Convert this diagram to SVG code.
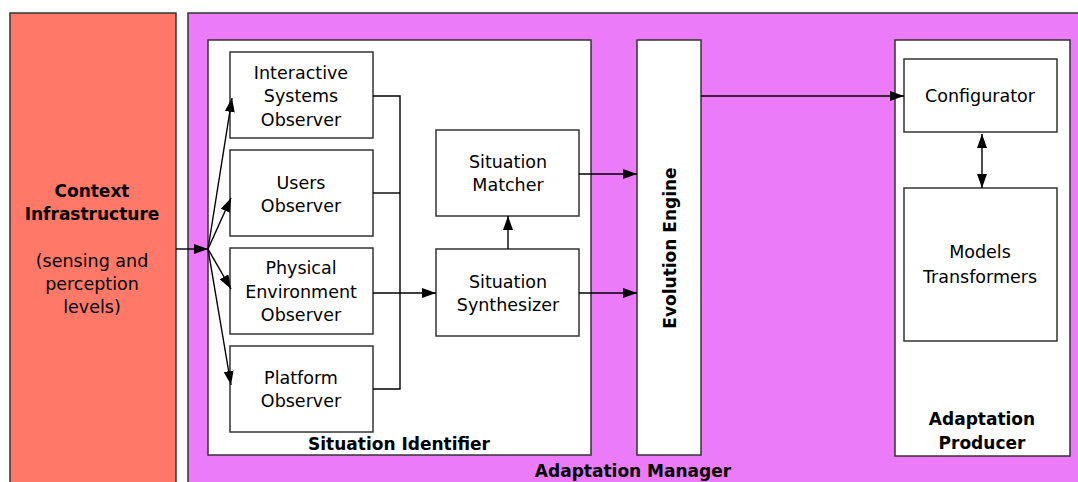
<svg xmlns="http://www.w3.org/2000/svg" width="1078" height="482" viewBox="0 0 1078 482">
<style>
.box{fill:#fff;stroke:#333;stroke-width:1.5}
.t{font-family:"DejaVu Sans",sans-serif;font-size:17.5px;fill:#000;text-anchor:middle}
.b{font-family:"DejaVu Sans",sans-serif;font-size:17px;font-weight:bold;fill:#000;text-anchor:middle}
.ln{fill:none;stroke:#000;stroke-width:1.4}
</style>
<defs>
<marker id="ah" markerUnits="userSpaceOnUse" markerWidth="16" markerHeight="12" refX="14" refY="5" orient="auto-start-reverse"><path d="M0,0 L14,5 L0,10 z" fill="#000"/></marker>
</defs>
<rect width="1078" height="482" fill="#fff"/>
<g id="context-infrastructure">
<rect x="10" y="13" width="166" height="480" fill="#FF7868" stroke="#333" stroke-width="1.5"/>
<text class="b" x="92" y="197">Context</text>
<text class="b" x="92" y="220">Infrastructure</text>
<text class="t" x="92" y="267">(sensing and</text>
<text class="t" x="92" y="290">perception</text>
<text class="t" x="92" y="313">levels)</text>
</g>
<g id="adaptation-manager">
<rect x="188" y="13" width="1000" height="480" fill="#EC7BF9" stroke="#333" stroke-width="1.5"/>
<text class="b" x="633" y="477">Adaptation Manager</text>
</g>
<g id="situation-identifier">
<rect class="box" x="208" y="40" width="383" height="415"/>
<text class="b" x="399" y="450">Situation Identifier</text>
</g>
<g id="interactive-systems-observer">
<rect class="box" x="230" y="52" width="143" height="86"/>
<text class="t" x="301" y="79">Interactive</text>
<text class="t" x="301" y="102">Systems</text>
<text class="t" x="301" y="126">Observer</text>
</g>
<g id="users-observer">
<rect class="box" x="230" y="150" width="143" height="86"/>
<text class="t" x="301" y="189">Users</text>
<text class="t" x="301" y="212">Observer</text>
</g>
<g id="physical-environment-observer">
<rect class="box" x="230" y="248" width="143" height="86"/>
<text class="t" x="301" y="274">Physical</text>
<text class="t" x="301" y="298">Environment</text>
<text class="t" x="301" y="321">Observer</text>
</g>
<g id="platform-observer">
<rect class="box" x="230" y="346" width="143" height="86"/>
<text class="t" x="301" y="384">Platform</text>
<text class="t" x="301" y="407">Observer</text>
</g>
<g id="situation-matcher">
<rect class="box" x="436" y="130" width="143" height="86"/>
<text class="t" x="508" y="168">Situation</text>
<text class="t" x="508" y="191">Matcher</text>
</g>
<g id="situation-synthesizer">
<rect class="box" x="436" y="249" width="143" height="87"/>
<text class="t" x="508" y="288">Situation</text>
<text class="t" x="508" y="311">Synthesizer</text>
</g>
<g id="evolution-engine">
<rect class="box" x="637" y="40" width="64" height="415"/>
<text class="b" transform="translate(676,248) rotate(-90)" x="0" y="0">Evolution Engine</text>
</g>
<g id="adaptation-producer">
<rect class="box" x="895" y="40" width="175" height="416"/>
<text class="b" x="982" y="425">Adaptation</text>
<text class="b" x="982" y="449">Producer</text>
</g>
<g id="configurator">
<rect class="box" x="904" y="59" width="153" height="73"/>
<text class="t" x="980" y="102">Configurator</text>
</g>
<g id="models-transformers">
<rect class="box" x="904" y="188" width="153" height="153"/>
<text class="t" x="980" y="258">Models</text>
<text class="t" x="980" y="283">Transformers</text>
</g>
<g id="connectors">
<line class="ln" x1="176" y1="249" x2="208" y2="249" marker-end="url(#ah)"/>
<line class="ln" x1="208" y1="249" x2="232" y2="98" marker-end="url(#ah)"/>
<line class="ln" x1="208" y1="249" x2="231" y2="198" marker-end="url(#ah)"/>
<line class="ln" x1="208" y1="249" x2="231" y2="289" marker-end="url(#ah)"/>
<line class="ln" x1="208" y1="249" x2="231" y2="385" marker-end="url(#ah)"/>
<polyline class="ln" points="373,96 400,96 400,389 373,389"/>
<line class="ln" x1="373" y1="193" x2="400" y2="193"/>
<line class="ln" x1="373" y1="293" x2="436" y2="293" marker-end="url(#ah)"/>
<line class="ln" x1="508" y1="249" x2="508" y2="216" marker-end="url(#ah)"/>
<line class="ln" x1="579" y1="174" x2="637" y2="174" marker-end="url(#ah)"/>
<line class="ln" x1="579" y1="293" x2="637" y2="293" marker-end="url(#ah)"/>
<line class="ln" x1="701" y1="96" x2="904" y2="96" marker-end="url(#ah)"/>
<line class="ln" x1="982" y1="134" x2="982" y2="188" marker-start="url(#ah)" marker-end="url(#ah)"/>
</g>
</svg>
